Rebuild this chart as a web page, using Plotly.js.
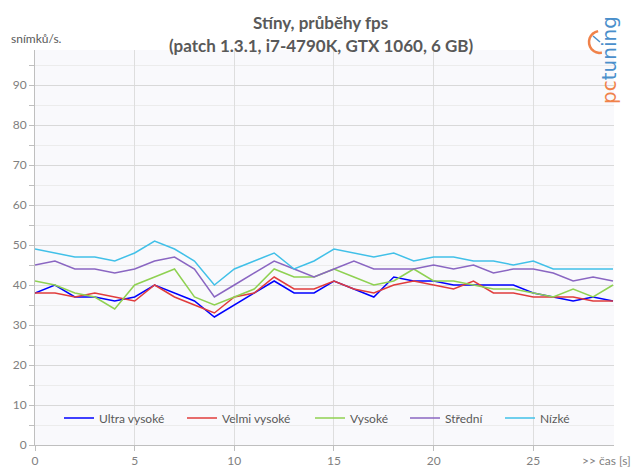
<!DOCTYPE html>
<html>
<head>
<meta charset="utf-8">
<script src="https://cdn.plot.ly/plotly-3.0.1.min.js"></script>
<style>
  html, body { margin: 0; padding: 0; background: #fff; }
  #chart { width: 639px; height: 476px; }
</style>
</head>
<body>
<div id="chart"></div>
<script>
// time axis, seconds
const casS = [0,1,2,3,4,5,6,7,8,9,10,11,12,13,14,15,16,17,18,19,20,21,22,23,24,25,26,27,28,29];

// fps per shadow setting
const ultraVysoke = [38,40,37,37,36,37,40,38,36,32,35,38,41,38,38,41,39,37,42,41,41,40,40,40,40,38,37,36,37,36];
const velmiVysoke = [38,38,37,38,37,36,40,37,35,33,37,38,42,39,39,41,39,38,40,41,40,39,41,38,38,37,37,37,36,36];
const vysoke      = [41,40,38,37,34,40,42,44,37,35,37,39,44,42,42,44,42,40,41,44,41,41,40,39,39,38,37,39,37,40];
const stredni     = [45,46,44,44,43,44,46,47,44,37,40,43,46,44,42,44,46,44,44,44,45,44,45,43,44,44,43,41,42,41];
const nizke       = [49,48,47,47,46,48,51,49,46,40,44,46,48,44,46,49,48,47,48,46,47,47,46,46,45,46,44,44,44,44];

const seriesNames = ['Ultra vysoké','Velmi vysoké','Vysoké','Střední','Nízké'];
const seriesColors = ['#0000ff','#e03c3c','#8fd152','#8a66c2','#41c0e8'];
const yTickVals = [0,10,20,30,40,50,60,70,80,90];
const xTickVals = [0,5,10,15,20,25];

// plot box in pixels, used to place legend and logo bits
const L = 35, R = 614, T = 50, B = 445;
const px = v => (v - L) / (R - L);
const py = v => (B - v) / (B - T);

// where each legend entry's text starts in the reference
const legendTextX = [99, 222, 350, 445, 540];

const allSeries = [ultraVysoke, velmiVysoke, vysoke, stredni, nizke];
const traces = allSeries.map((ys,i)=>({
  x: casS, y: ys, type:'scatter', mode:'lines', name: seriesNames[i],
  legend: i === 0 ? 'legend' : 'legend' + (i+1),
  line:{color: seriesColors[i], width:1.5}
}));

// clock arc of the logo
let arc = '';
for(let a = 100; a <= 280; a += 15){
  const r = a*Math.PI/180;
  const X = px(600 + 11*Math.cos(r)), Y = py(42 - 11*Math.sin(r));
  arc += (arc ? ' L' : 'M') + X + ',' + Y;
}

const grey = '#595959';
const layout = {
  width: 639, height: 476,
  margin:{l:L, r:639-R, t:T, b:476-B},
  paper_bgcolor:'#ffffff', plot_bgcolor:'#f9f9fc',
  font:{family:'Lato, "Open Sans", sans-serif', size:12, color:grey},
  showlegend:true,
  xaxis:{range:[0,29.05], tickvals:xTickVals, ticks:'outside', ticklen:5, tickcolor:'#bfbfbf',
    showline:true, linecolor:'#bfbfbf', showgrid:true, gridcolor:'#dedede', zeroline:false,
    tickfont:{size:12, color:'#808080'}, fixedrange:true},
  yaxis:{range:[0,98.75], tickvals:yTickVals, ticks:'outside', ticklen:5, tickcolor:'#bfbfbf',
    showline:true, linecolor:'#bfbfbf', showgrid:true, gridcolor:'#d9d9d9', zeroline:false,
    tickfont:{size:12, color:'#808080'}, fixedrange:true,
    minor:{dtick:5, ticks:'outside', ticklen:5, tickcolor:'#bfbfbf', showgrid:true, gridcolor:'#ececec'}},
  annotations:[
    {text:'<b>Stíny, průběhy fps</b>', xref:'paper', yref:'paper', x:px(320), y:py(22),
      xanchor:'center', yanchor:'middle', showarrow:false, font:{size:17, color:grey}},
    {text:'<b>(patch 1.3.1, i7-4790K, GTX 1060, 6 GB)</b>', xref:'paper', yref:'paper', x:px(321), y:py(46),
      xanchor:'center', yanchor:'middle', showarrow:false, font:{size:17, color:grey}},
    {text:'snímků/s.', xref:'paper', yref:'paper', x:px(9), y:py(38), xanchor:'left', yanchor:'middle',
      showarrow:false, font:{size:12, color:grey}},
    {text:'>> čas [s]', xref:'paper', yref:'paper', x:px(580), y:py(460), xanchor:'left', yanchor:'middle',
      showarrow:false, font:{size:12, color:'#808080'}},
    {text:'<span style="color:#f0824a">pc</span><span style="color:#4a8fcb">tuning</span>',
      xref:'paper', yref:'paper', x:px(609), y:py(60), xanchor:'center', yanchor:'middle',
      textangle:-90, showarrow:false, font:{size:20, family:'"DejaVu Sans", sans-serif'}}
  ],
  shapes:[
    {type:'path', xref:'paper', yref:'paper', path:arc, line:{color:'#f0824a', width:2.5}},
    {type:'line', xref:'paper', yref:'paper', x0:px(600), y0:py(42), x1:px(593), y1:py(36),
      line:{color:'#4a8fcb', width:1.5}}
  ]
};

// one small legend per series so each entry sits where the reference has it
legendTextX.forEach((tx,i)=>{
  const key = i === 0 ? 'legend' : 'legend' + (i+1);
  layout[key] = {orientation:'h', x:px(tx - 40), xanchor:'left', y:py(418), yanchor:'middle',
    bgcolor:'rgba(0,0,0,0)', font:{size:12, color:grey}};
});

Plotly.newPlot('chart', traces, layout, {staticPlot:true, displayModeBar:false});
</script>
</body>
</html>
